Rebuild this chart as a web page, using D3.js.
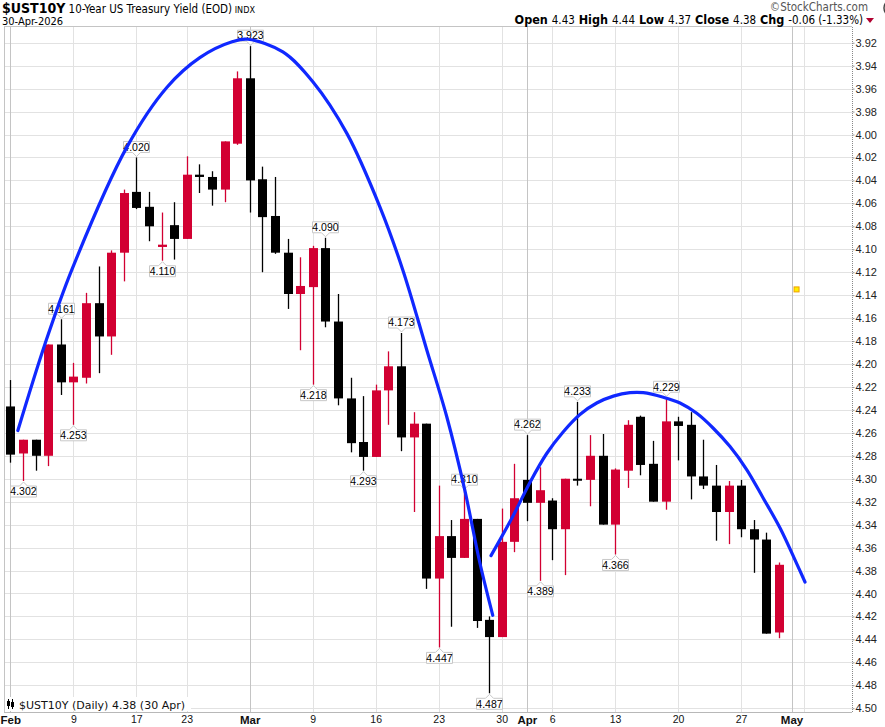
<!DOCTYPE html>
<html>
<head>
<meta charset="utf-8">
<script src="https://cdn.jsdelivr.net/npm/d3@7"></script>
<style>
  body { margin: 0; background: #fff; }
  svg { display: block; font-family: "Liberation Sans", Arial, sans-serif; }
  .narrow { font-family: "Liberation Sans Narrow", "DejaVu Sans Condensed", "Arial Narrow", sans-serif; }
</style>
</head>
<body>
<svg id="chart" width="885" height="727"></svg>
<script>
// trading days shown (Feb 2 - Apr 30, 2026)
var dates = [
  "2026-02-02","2026-02-03","2026-02-04","2026-02-05","2026-02-06","2026-02-09","2026-02-10","2026-02-11","2026-02-12","2026-02-13",
  "2026-02-17","2026-02-18","2026-02-19","2026-02-20","2026-02-23","2026-02-24","2026-02-25","2026-02-26","2026-02-27",
  "2026-03-02","2026-03-03","2026-03-04","2026-03-05","2026-03-06","2026-03-09","2026-03-10","2026-03-11","2026-03-12","2026-03-13",
  "2026-03-16","2026-03-17","2026-03-18","2026-03-19","2026-03-20","2026-03-23","2026-03-24","2026-03-25","2026-03-26","2026-03-27",
  "2026-03-30","2026-03-31","2026-04-01","2026-04-02","2026-04-06","2026-04-07","2026-04-08","2026-04-09","2026-04-10",
  "2026-04-13","2026-04-14","2026-04-15","2026-04-16","2026-04-17","2026-04-20","2026-04-21","2026-04-22","2026-04-23","2026-04-24",
  "2026-04-27","2026-04-28","2026-04-29","2026-04-30"
];
// empty days to the right of the last bar
var futureDates = ["2026-05-01","2026-05-04","2026-05-05","2026-05-06","2026-05-07"];

var opens = [4.237,4.278,4.266,4.280,4.183,4.216,4.212,4.147,4.176,4.103,
  4.050,4.063,4.098,4.079,4.091,4.035,4.037,4.048,4.008,
  3.951,4.039,4.071,4.103,4.139,4.133,4.099,4.163,4.230,4.268,
  4.281,4.223,4.202,4.264,4.252,4.387,4.350,4.369,4.335,4.423,
  4.438,4.355,4.301,4.321,4.319,4.344,4.300,4.301,4.280,
  4.340,4.293,4.246,4.287,4.320,4.250,4.253,4.298,4.306,4.329,
  4.306,4.344,4.353,4.434];
var highs = [4.286,4.302,4.293,4.289,4.227,4.253,4.217,4.208,4.192,4.128,
  4.065,4.093,4.110,4.109,4.091,4.051,4.062,4.059,4.009,
  4.068,4.120,4.104,4.152,4.188,4.218,4.168,4.236,4.277,4.293,
  4.281,4.253,4.276,4.329,4.396,4.447,4.429,4.369,4.430,4.487,
  4.438,4.364,4.337,4.389,4.371,4.384,4.306,4.324,4.340,
  4.366,4.308,4.297,4.320,4.327,4.284,4.318,4.309,4.354,4.357,
  4.351,4.382,4.435,4.439];
var lows = [4.214,4.266,4.266,4.183,4.161,4.199,4.138,4.115,4.101,4.048,
  4.020,4.050,4.068,4.059,4.019,4.026,4.032,4.006,3.945,
  3.923,4.028,4.037,4.091,4.107,4.097,4.090,4.139,4.212,4.228,
  4.218,4.189,4.173,4.242,4.252,4.306,4.336,4.310,4.335,4.420,
  4.326,4.287,4.262,4.290,4.317,4.300,4.233,4.262,4.261,
  4.291,4.249,4.245,4.267,4.229,4.246,4.242,4.266,4.288,4.302,
  4.301,4.336,4.347,4.373];
var closes = [4.279,4.266,4.280,4.183,4.216,4.211,4.147,4.176,4.103,4.051,
  4.064,4.080,4.096,4.091,4.035,4.037,4.048,4.006,3.951,
  4.040,4.072,4.103,4.139,4.132,4.099,4.163,4.230,4.269,4.281,
  4.223,4.202,4.264,4.252,4.387,4.350,4.369,4.335,4.424,4.438,
  4.355,4.317,4.321,4.310,4.344,4.300,4.301,4.280,4.340,
  4.292,4.253,4.288,4.320,4.250,4.254,4.298,4.306,4.329,4.306,
  4.344,4.353,4.435,4.375];

// pivot value tags: day, value, side
var tagDays = ["2026-02-03","2026-02-06","2026-02-09","2026-02-17","2026-02-19","2026-03-02","2026-03-09","2026-03-10","2026-03-13",
  "2026-03-18","2026-03-23","2026-03-25","2026-03-27","2026-04-01","2026-04-02","2026-04-08","2026-04-13","2026-04-17"];
var tagValues = [4.302,4.161,4.253,4.020,4.110,3.923,4.218,4.090,4.293,4.173,4.447,4.310,4.487,4.262,4.389,4.233,4.366,4.229];
var tagAbove = [false,true,false,true,false,true,false,true,false,true,false,true,false,true,false,true,false,true];

// hand-drawn arcs (trading-day position, yield)
var arc1Pos = [0.6,2.74,4.88,9.25,12.42,15.04,17.66,18.85,21.63,24.01,26.71,29.33,31.15,33.06,34.64,36.07,37.26,38.29];
var arc1Yield = [4.258,4.183,4.118,4.011,3.959,3.933,3.919,3.917,3.928,3.954,3.999,4.063,4.118,4.188,4.246,4.310,4.373,4.419];
var arc2Pos = [38.15,39.92,41.25,42.57,43.89,45.21,46.54,47.86,49.18,50.24,51.83,53.15,54.48,55.79,57.12,58.44,59.76,61.09,62.41,63.07];
var arc2Yield = [4.367,4.332,4.303,4.278,4.259,4.244,4.234,4.228,4.225,4.225,4.229,4.234,4.243,4.256,4.272,4.292,4.317,4.343,4.374,4.390];

// x axis ticks
var xTickDates = ["2026-02-02","2026-02-09","2026-02-17","2026-02-23","2026-03-02","2026-03-09","2026-03-16","2026-03-23",
  "2026-03-30","2026-04-01","2026-04-06","2026-04-13","2026-04-20","2026-04-27","2026-05-01","2026-05-04"];
var xTickLabels = ["Feb","9","17","23","Mar","9","16","23","30","Apr","6","13","20","27","May",""];
var monthTicks = ["Feb","Mar","Apr","May"];

var markerPos = 62.4, markerYield = 4.135;

var allDates = dates.concat(futureDates);
function dayIndex(d) { return allDates.indexOf(d); }

var svg = d3.select("#chart");
var plotLeft = 4, plotRight = 852, plotTop = 27, plotBottom = 712;

var x = d3.scaleLinear().domain([-0.5, 66.8]).range([plotLeft, plotRight]);
var y = d3.scaleLinear().domain([3.9063, 4.5033]).range([plotTop, plotBottom]);

var red = "#d20032";

// gridlines
var yTicks = y.ticks(30);
svg.append("g")
  .selectAll("line")
  .data(yTicks)
  .enter().append("line")
  .attr("x1", plotLeft).attr("x2", plotRight)
  .attr("y1", d => Math.round(y(d)) + 0.5)
  .attr("y2", d => Math.round(y(d)) + 0.5)
  .attr("stroke", "#e2e2e2");

svg.append("g")
  .selectAll("line")
  .data(xTickDates)
  .enter().append("line")
  .attr("x1", d => Math.round(x(dayIndex(d))) + 0.5)
  .attr("x2", d => Math.round(x(dayIndex(d))) + 0.5)
  .attr("y1", plotTop).attr("y2", plotBottom)
  .attr("stroke", (d, i) => monthTicks.indexOf(xTickLabels[i]) >= 0 ? "#c4c4c4" : "#e2e2e2");

// frame
svg.append("line").attr("x1", plotLeft + 0.5).attr("x2", plotLeft + 0.5).attr("y1", plotTop).attr("y2", plotBottom).attr("stroke", "#c4c4c4");
svg.append("line").attr("x1", plotLeft).attr("x2", plotRight).attr("y1", plotTop - 0.5).attr("y2", plotTop - 0.5).attr("stroke", "#c4c4c4");

// right axis
var yAxis = d3.axisRight(y).tickValues(yTicks).tickFormat(d3.format(".2f")).tickSize(2).tickPadding(1);
var gy = svg.append("g").attr("transform", "translate(" + (plotRight + 0.5) + ",0)").call(yAxis);
gy.select(".domain").remove();
gy.selectAll(".tick line").attr("stroke", "#999");
gy.selectAll("text").attr("font-size", 11).attr("fill", "#222").attr("font-family", "'Liberation Sans', Arial, sans-serif");
svg.append("line").attr("x1", plotRight + 0.5).attr("x2", plotRight + 0.5).attr("y1", plotTop).attr("y2", plotBottom)
  .attr("stroke", "#888").attr("stroke-dasharray", "1,1");

// bottom axis
var xAxis = d3.axisBottom(x)
  .tickValues(xTickDates.map(dayIndex))
  .tickFormat((d, i) => xTickLabels[i])
  .tickSize(0).tickPadding(3);
var gx = svg.append("g").attr("transform", "translate(0," + (plotBottom + 0.5) + ")").call(xAxis);
gx.select(".domain").attr("d", "M" + plotLeft + ",0H" + plotRight).attr("stroke", "#b8b8b8");
gx.selectAll("text")
  .attr("font-size", (d, i) => monthTicks.indexOf(xTickLabels[i]) >= 0 ? 11.5 : 10.5)
  .attr("font-weight", (d, i) => monthTicks.indexOf(xTickLabels[i]) >= 0 ? "bold" : "normal")
  .attr("fill", "#111")
  .attr("font-family", "'Liberation Sans', Arial, sans-serif");

// candles
var candles = dates.map((d, i) => ({ i: i, o: opens[i], h: highs[i], l: lows[i], c: closes[i] }));
var cg = svg.append("g");
cg.selectAll("line")
  .data(candles)
  .enter().append("line")
  .attr("x1", d => Math.round(x(d.i)) + 0.5)
  .attr("x2", d => Math.round(x(d.i)) + 0.5)
  .attr("y1", d => y(d.l))
  .attr("y2", d => y(d.h))
  .attr("stroke", d => d.c < d.o ? red : "#000")
  .attr("stroke-width", 1.3);
cg.selectAll("rect")
  .data(candles)
  .enter().append("rect")
  .attr("x", d => Math.round(x(d.i)) - 4)
  .attr("width", 9)
  .attr("y", d => y(Math.min(d.o, d.c)))
  .attr("height", d => Math.max(2, y(Math.max(d.o, d.c)) - y(Math.min(d.o, d.c))))
  .attr("fill", d => d.c < d.o ? red : "#000");

// value tags
var fmt = d3.format(".3f");
var tags = tagDays.map((d, i) => ({ i: dayIndex(d), v: tagValues[i], above: tagAbove[i] }));
var tg = svg.append("g").selectAll("g").data(tags).enter().append("g");
tg.append("path")
  .attr("d", d => {
    var cx = Math.round(x(d.i)) + 0.5, tip = y(d.v), w = 26, h = 11, gap = 5;
    if (d.above) {
      var b = tip - gap;
      return "M" + (cx - w / 2) + "," + (b - h) + "H" + (cx + w / 2) + "V" + b + "H" + (cx + 4) +
        "L" + cx + "," + (tip - 1) + "L" + (cx - 4) + "," + b + "H" + (cx - w / 2) + "Z";
    }
    var t = tip + gap;
    return "M" + (cx - w / 2) + "," + t + "H" + (cx - 4) + "L" + cx + "," + (tip + 1) + "L" + (cx + 4) + "," + t +
      "H" + (cx + w / 2) + "V" + (t + h) + "H" + (cx - w / 2) + "Z";
  })
  .attr("fill", "#fff")
  .attr("stroke", "#c8c8c8");
tg.append("text")
  .attr("x", d => Math.round(x(d.i)) + 0.5)
  .attr("y", d => d.above ? y(d.v) - 5 - 5.5 : y(d.v) + 5 + 5.5)
  .attr("dy", "0.36em")
  .attr("text-anchor", "middle")
  .attr("font-size", 10.5)
  .attr("fill", "#000")
  .text(d => fmt(d.v));

// arcs
var arcLine = d3.line().x(d => x(d[0])).y(d => y(d[1])).curve(d3.curveCatmullRom.alpha(0.5));
[[arc1Pos, arc1Yield], [arc2Pos, arc2Yield]].forEach(a => {
  svg.append("path")
    .attr("d", arcLine(a[0].map((p, i) => [p, a[1][i]])))
    .attr("fill", "none")
    .attr("stroke", "#1028ff")
    .attr("stroke-width", 3.2)
    .attr("stroke-linecap", "round");
});

// small marker
svg.append("rect")
  .attr("x", x(markerPos) - 2.5).attr("y", y(markerYield) - 2.5)
  .attr("width", 5).attr("height", 5)
  .attr("fill", "#ffee00").attr("stroke", "#f0a000");

// legend bottom left
svg.append("rect").attr("x", 5).attr("y", 697).attr("width", 186).attr("height", 14).attr("fill", "#fff");
svg.append("line").attr("x1", 8.5).attr("x2", 8.5).attr("y1", 699).attr("y2", 709).attr("stroke", "#000");
svg.append("rect").attr("x", 7).attr("y", 701).attr("width", 3).attr("height", 5).attr("fill", "#000");
svg.append("line").attr("x1", 12.5).attr("x2", 12.5).attr("y1", 699).attr("y2", 709).attr("stroke", "#000");
svg.append("rect").attr("x", 11).attr("y", 702).attr("width", 3).attr("height", 5).attr("fill", "#000");
svg.append("text").attr("x", 19).attr("y", 709).attr("font-size", 11).attr("fill", "#111")
  .attr("font-family", "'DejaVu Sans', Verdana, sans-serif")
  .text("$UST10Y (Daily) 4.38 (30 Apr)");

// header
var title = svg.append("text").attr("class", "narrow").attr("x", 2).attr("y", 13).attr("fill", "#000");
title.append("tspan").attr("font-size", 14).attr("font-weight", "bold").text("$UST10Y");
title.append("tspan").attr("font-size", 11.5).text(" 10-Year US Treasury Yield (EOD)");
title.append("tspan").attr("font-size", 9).text(" INDX");
svg.append("text").attr("class", "narrow").attr("x", 2).attr("y", 25).attr("font-size", 11).text("30-Apr-2026");
svg.append("text").attr("class", "narrow").attr("x", 868).attr("y", 11).attr("text-anchor", "end")
  .attr("font-size", 11.5).attr("fill", "#555").text("\u00a9StockCharts.com");
svg.append("circle").attr("cx", 893).attr("cy", 8).attr("r", 9).attr("fill", "none").attr("stroke", "#444").attr("stroke-width", 1.5);

var quote = svg.append("text").attr("class", "narrow").attr("x", 863).attr("y", 24).attr("text-anchor", "end").attr("fill", "#000");
[["Open", "4.43"], ["High", "4.44"], ["Low", "4.37"], ["Close", "4.38"], ["Chg", "-0.06 (-1.33%)"]].forEach((p, i) => {
  quote.append("tspan").attr("font-size", 12.5).attr("font-weight", "bold").text((i ? " " : "") + p[0] + " ");
  quote.append("tspan").attr("font-size", 11.5).text(p[1]);
});
svg.append("path").attr("d", "M866,18H874L870,23Z").attr("fill", "#b00030");
</script>
</body>
</html>
